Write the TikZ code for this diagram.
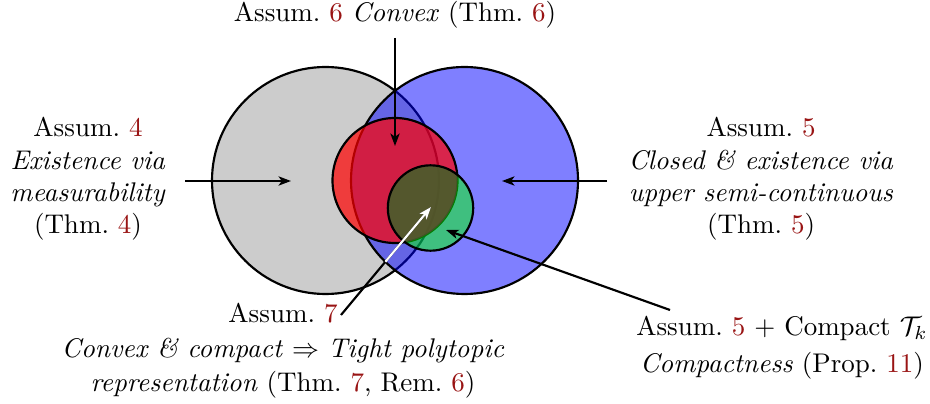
\documentclass[tikz,border=0pt]{standalone}
\usetikzlibrary{arrows.meta}
\definecolor{refc}{rgb}{0.6,0.08,0.08}
\definecolor{olivec}{rgb}{0.31,0.29,0.19}
\newcommand{\rf}[1]{\textcolor{refc}{#1}}
\begin{document}
\begin{tikzpicture}[x=0.37037pt,y=-0.37037pt,
  ring/.style={draw=black,thick},
  lbl/.style={inner sep=0pt},
  conn/.style={thick,-{Stealth[length=4.6pt,width=3.4pt,inset=1.2pt]}}]
\useasboundingbox[fill=white] (0,0) rectangle (930,404);
\coordinate (cg) at (325.5,180.5);
\coordinate (cb) at (464.5,180.5);
\coordinate (cr) at (395,180.5);
\coordinate (cgr) at (430.5,208);
% circles
\filldraw[ring, fill=black!20] (cg) circle[radius=113.5];
\filldraw[ring, fill=blue, fill opacity=0.5] (cb) circle[radius=113.5];
\filldraw[ring, fill=red, fill opacity=0.7] (cr) circle[radius=62.5];
\fill[green, fill opacity=0.5] (cgr) circle[radius=42.7];
\begin{scope}
  \clip (cr) circle[radius=62.5];
  \fill[olivec, fill opacity=0.8] (cgr) circle[radius=42.7];
\end{scope}
\draw[ring] (cgr) circle[radius=42.7];
% labels
\node[lbl, anchor=base] (l6) at (395,22) {Assum.~\rf{6} \textit{Convex} (Thm.~\rf{6})};
\node[lbl, align=center] (l4) at (88,179) {Assum.~\rf{4}\\ \textit{Existence via}\\ \textit{measurability}\\ (Thm.~\rf{4})};
\node[lbl, align=center] (l5) at (761,179) {Assum.~\rf{5}\\ \textit{Closed \& existence via}\\ \textit{upper semi-continuous}\\ (Thm.~\rf{5})};
\node[lbl, align=center] (l7) at (283,351) {Assum.~\rf{7}\\[0.8pt] \textit{Convex \& compact} $\Rightarrow$ \textit{Tight polytopic}\\[0.8pt] \textit{representation} (Thm.~\rf{7}, Rem.~\rf{6})};
\node[lbl, align=center] (l11) at (782,348) {Assum.~\rf{5} + Compact $\mathcal{T}_k$\\[1.6pt] \textit{Compactness} (Prop.~\rf{11})};
% connector ends
\coordinate (s6) at (395,38);   \coordinate (e6) at (395,146);
\coordinate (s4) at (185,181);  \coordinate (e4) at (291,181);
\coordinate (s5) at (607,181);  \coordinate (e5) at (502,181);
\coordinate (s11) at (670,310); \coordinate (e11) at (446,230);
\coordinate (s7) at (341,315);  \coordinate (e7) at (431,207);
% connectors
\draw[conn] (s6) -- (e6);
\draw[conn] (s4) -- (e4);
\draw[conn] (s5) -- (e5);
\draw[conn] (s11) -- (e11);
\draw[conn] (s7) -- (e7);
\begin{scope}
  \clip (cb) circle[radius=113.5];
  \draw[conn, white] (s7) -- (e7);
\end{scope}
\end{tikzpicture}
\end{document}
